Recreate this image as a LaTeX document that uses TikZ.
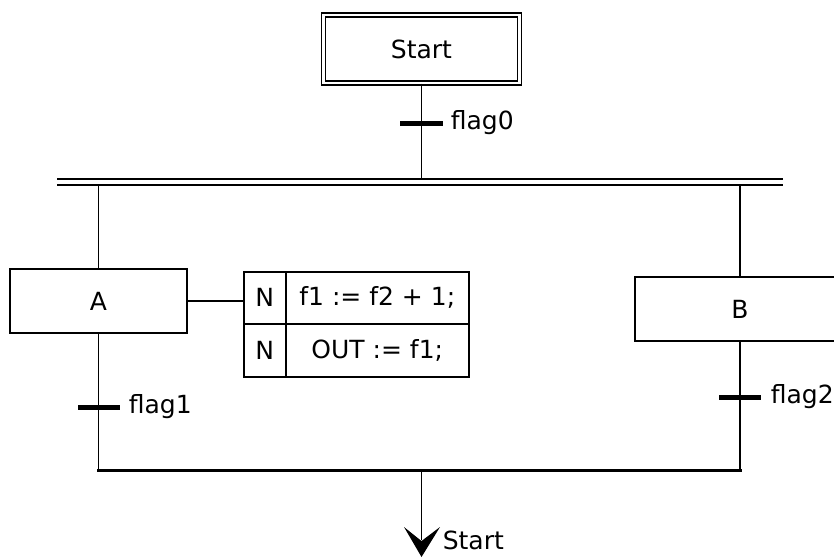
\documentclass[tikz,border=0pt]{standalone}
\usepackage{fontspec}
\setmainfont{DejaVu Sans}
\begin{document}
\begin{tikzpicture}[x=1pt,y=-1pt,
  line width=1.6pt,
  txt/.style={font=\fontsize{25}{29}\selectfont},
  stepbox/.style={draw, line width=1.6pt, minimum width=177pt, minimum height=64pt, inner sep=0pt, txt},
  cell/.style={draw, line width=1.6pt, inner sep=0pt, anchor=north west, txt},
  bar/.style={fill=black, minimum width=43pt, minimum height=5pt, inner sep=0pt},
  lbl/.style={anchor=west, inner sep=0pt, txt}]
\useasboundingbox (0,0) rectangle (834,557);
% initial step
\node[draw, double, double distance=2.4pt, line width=1.4pt, minimum width=196pt, minimum height=68pt, inner sep=0pt, txt] (start) at (421.5,49) {Start};
% transition flag0
\coordinate (dl) at (57,179);
\coordinate (dr) at (783,179);
\coordinate (el) at (57,185);
\coordinate (er) at (783,185);
\draw (start.south) -- (start.south |- dl);
\node[bar] (t0) at (421.5,123) {};
\node[lbl] (l0) at (450,123) {flag0};
% simultaneous divergence
\draw (dl) -- (dr);
\draw (el) -- (er);
% branch A
\node[stepbox] (A) at (98.5,301) {A};
\coordinate (ba) at (98.5,185);
\coordinate (ja) at (98.5,470);
\draw (ba) -- (A.north);
\draw (A.south) -- (ja);
\node[bar, minimum width=42pt] (t1) at (98.5,407) {};
\node[lbl] (l1) at (128,407) {flag1};
% action table
\node[cell, minimum width=42pt, minimum height=52pt] (c11) at (243,271) {N};
\node[cell, minimum width=183pt, minimum height=52pt] (c12) at (285,271) {f1 := f2 + 1;};
\node[cell, minimum width=42pt, minimum height=53pt] (c21) at (243,323) {N};
\node[cell, minimum width=183pt, minimum height=53pt] (c22) at (285,323) {OUT := f1;};
\draw (A.east) -- (A.east -| c11.west);
% branch B
\node[stepbox, minimum width=210pt] (B) at (740,309) {B};
\coordinate (bb) at (740,185);
\coordinate (jb) at (740,470);
\draw (bb) -- (B.north);
\draw (B.south) -- (jb);
\node[bar, minimum width=42pt] (t2) at (740,397) {};
\node[lbl] (l2) at (770,397) {flag2};
% convergence
\draw[line width=3pt, line cap=rect] (ja) -- (jb);
\coordinate (jm) at (421.5,470);
\coordinate (ae) at (421.5,540);
\coordinate (tip) at (421.5,557);
\draw (jm) -- (ae);
\fill (404,527) -- (tip) -- (440,527) -- (421.5,541) -- cycle;
\node[anchor=base west, inner sep=0pt, txt] (jl) at (442,549) {Start};
\end{tikzpicture}
\end{document}
